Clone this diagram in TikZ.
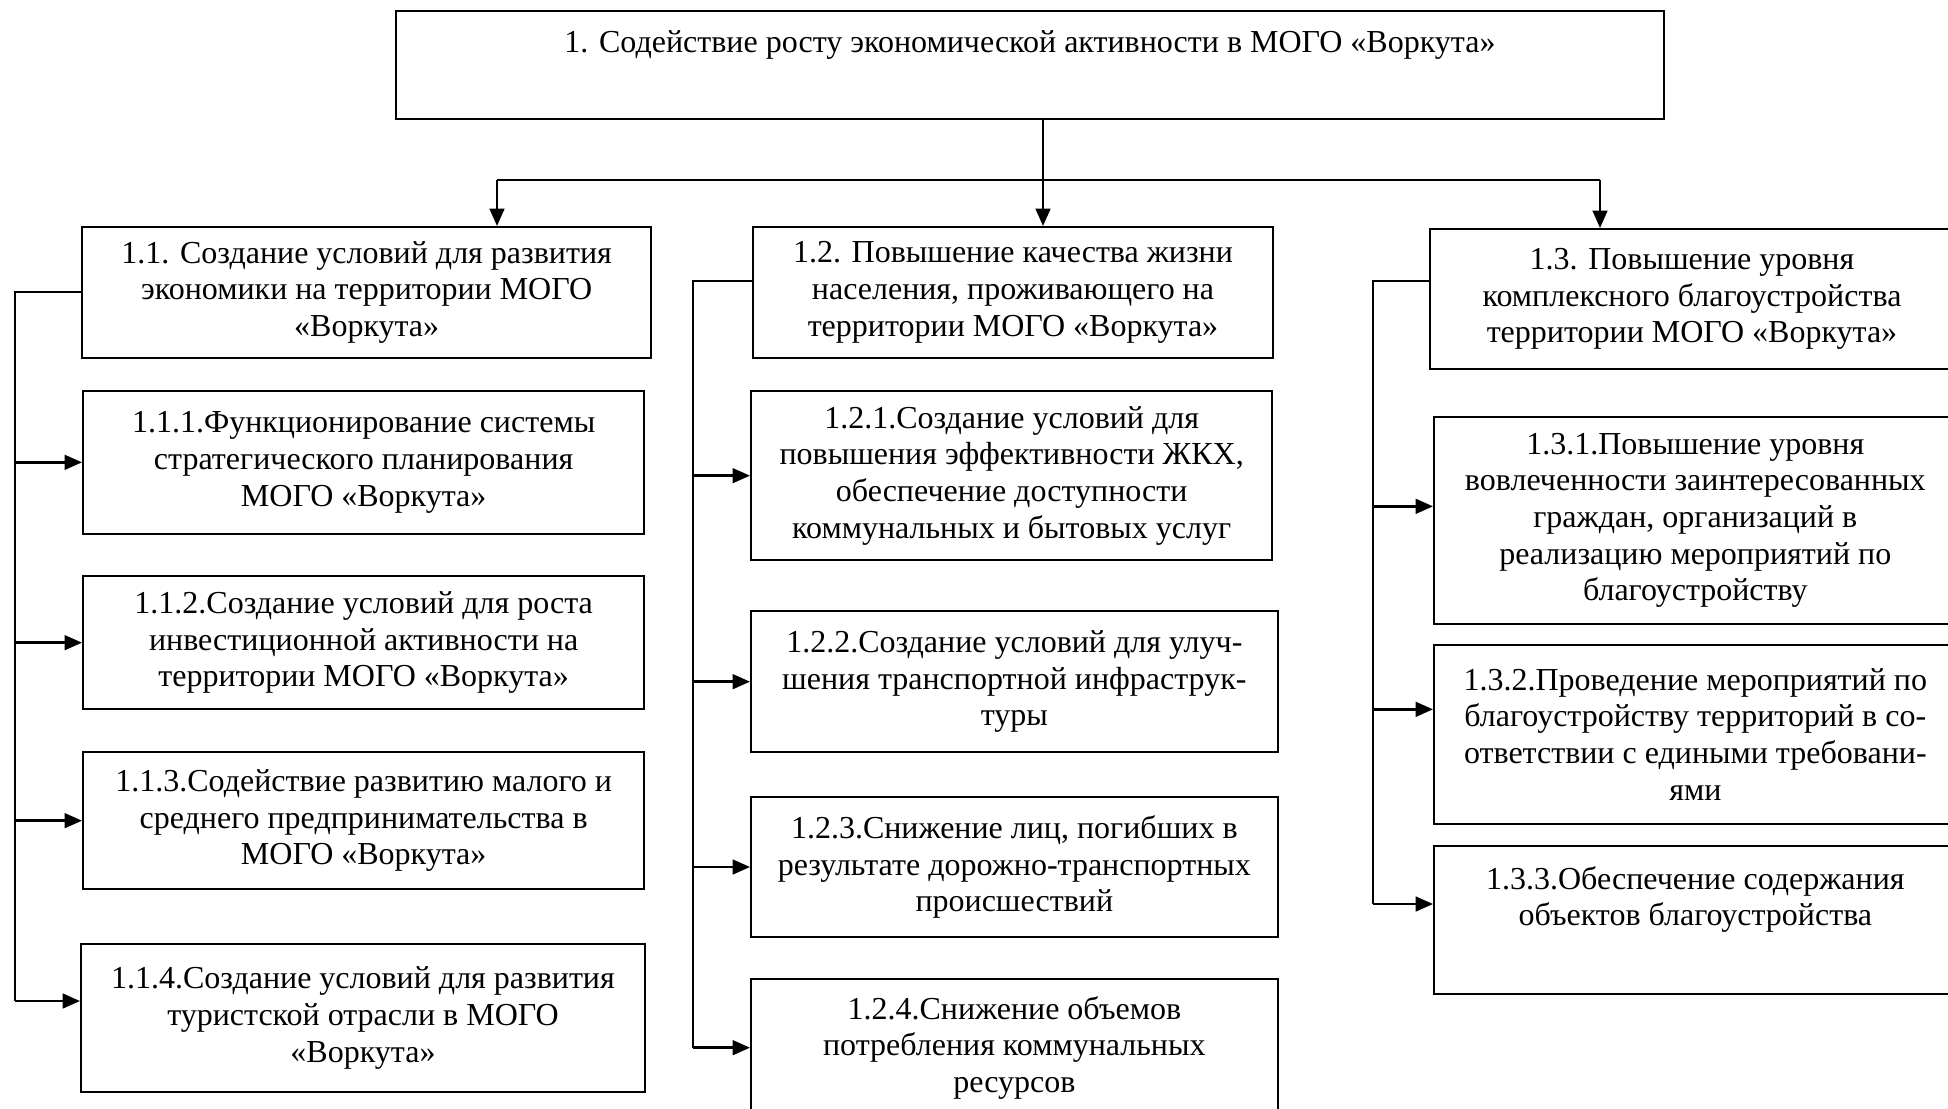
\documentclass[tikz,border=0pt]{standalone}
\usepackage{fontspec}
\setmainfont{Liberation Serif}
\usetikzlibrary{arrows.meta,calc}

\tikzset{
  blk/.style={draw, line width=1.5pt, anchor=north west, align=center, inner sep=2pt,
    font=\fontsize{24}{27.5}\selectfont},
  lnk/.style={line width=1.3pt},
  arr/.style={line width=1.8pt, -{Triangle[length=13pt,width=11pt]}}
}

\begin{document}
\begin{tikzpicture}[x=0.75pt,y=0.75pt,yscale=-1,xscale=1]
\useasboundingbox (0,0) rectangle (1948,1109);

% Text Node
\node (top) [blk, minimum width=951pt, minimum height=81pt] at (395,10) {1. Содействие росту экономической активности в МОГО «Воркута»\\ \strut};

% Text Node
\node (b1) [blk, minimum width=427pt, minimum height=98pt] at (81,226) {1.1. Создание условий для развития\\ экономики на территории МОГО\\ «Воркута»};
% Text Node
\node (b2) [blk, minimum width=390pt, minimum height=98pt] at (752,226) {1.2. Повышение качества жизни\\ населения, проживающего на\\ территории МОГО «Воркута»};
% Text Node
\node (b3) [blk, minimum width=393pt, minimum height=105pt] at (1429,228) {1.3. Повышение уровня\\ комплексного благоустройства\\ территории МОГО «Воркута»};

% Text Node
\node (b11) [blk, minimum width=421pt, minimum height=107pt] at (82,390) {1.1.1.Функционирование системы\\ стратегического планирования\\ МОГО «Воркута»};
% Text Node
\node (b12) [blk, minimum width=421pt, minimum height=100pt] at (82,575) {1.1.2.Создание условий для роста\\ инвестиционной активности на\\ территории МОГО «Воркута»};
% Text Node
\node (b13) [blk, minimum width=421pt, minimum height=103pt] at (82,751) {1.1.3.Содействие развитию малого и\\ среднего предпринимательства в\\ МОГО «Воркута»};
% Text Node
\node (b14) [blk, minimum width=423pt, minimum height=111pt] at (80,943) {1.1.4.Создание условий для развития\\ туристской отрасли в МОГО\\ «Воркута»};

% Text Node
\node (b21) [blk, minimum width=391pt, minimum height=127pt] at (750,390) {1.2.1.Создание условий для\\ повышения эффективности ЖКХ,\\ обеспечение доступности\\ коммунальных и бытовых услуг};
% Text Node
\node (b22) [blk, minimum width=395pt, minimum height=106pt] at (750,610) {1.2.2.Создание условий для улуч-\\ шения транспортной инфраструк-\\ туры};
% Text Node
\node (b23) [blk, minimum width=395pt, minimum height=105pt] at (750,796) {1.2.3.Снижение лиц, погибших в\\ результате дорожно-транспортных\\ происшествий};
% Text Node
\node (b24) [blk, minimum width=395pt, minimum height=103pt] at (750,978) {1.2.4.Снижение объемов\\ потребления коммунальных\\ ресурсов};

% Text Node
\node (b31) [blk, minimum width=392pt, minimum height=155pt] at (1433,416) {1.3.1.Повышение уровня\\ вовлеченности заинтересованных\\ граждан, организаций в\\ реализацию мероприятий по\\ благоустройству};
% Text Node
\node (b32) [blk, minimum width=392pt, minimum height=134pt] at (1433,644) {1.3.2.Проведение мероприятий по\\ благоустройству территорий в со-\\ ответствии с едиными требовани-\\ ями};
% Text Node
\node (b33) [blk, minimum width=392pt, minimum height=111pt] at (1433,845) {1.3.3.Обеспечение содержания\\ объектов благоустройства\\ \strut};

% bus
\coordinate (bus) at (1043,180);
\coordinate (busL) at (497,180);
\coordinate (busR) at (1600,180);
\coordinate (r1) at (15,292);
\coordinate (r2) at (693,281);
\coordinate (r3) at (1373,281);
\coordinate (e14) at ($(b14.west)+(0,-17)$);
\coordinate (e31) at ($(b31.west)+(0,-14)$);
\coordinate (e32) at ($(b32.west)+(0,-25)$);
\coordinate (e33) at ($(b33.west)+(0,-16)$);

%Straight Lines
\draw [lnk] (top.south -| bus) -- (bus);
\draw [lnk] (busL) -- (busR);
\draw [arr] (busL) -- (b1.north -| busL);
\draw [arr] (bus) -- (b2.north -| bus);
\draw [arr] (busR) -- (b3.north -| busR);

%Straight Lines
\draw [lnk] (b1.west) -- (b1.west -| r1) -- (r1 |- e14);
\draw [arr] (r1 |- e14) -- (e14);
\draw [arr] (r1 |- b11.west) -- (b11.west);
\draw [arr] (r1 |- b12.west) -- (b12.west);
\draw [arr] (r1 |- b13.west) -- (b13.west);

%Straight Lines
\draw [lnk] (b2.west |- r2) -- (r2) -- (r2 |- b24.west);
\draw [arr] (r2 |- b21.west) -- (b21.west);
\draw [arr] (r2 |- b22.west) -- (b22.west);
\draw [arr] (r2 |- b23.west) -- (b23.west);
\draw [arr] (r2 |- b24.west) -- (b24.west);

%Straight Lines
\draw [lnk] (b3.west |- r3) -- (r3) -- (r3 |- e33);
\draw [arr] (r3 |- e31) -- (e31);
\draw [arr] (r3 |- e32) -- (e32);
\draw [arr] (r3 |- e33) -- (e33);

\end{tikzpicture}
\end{document}
